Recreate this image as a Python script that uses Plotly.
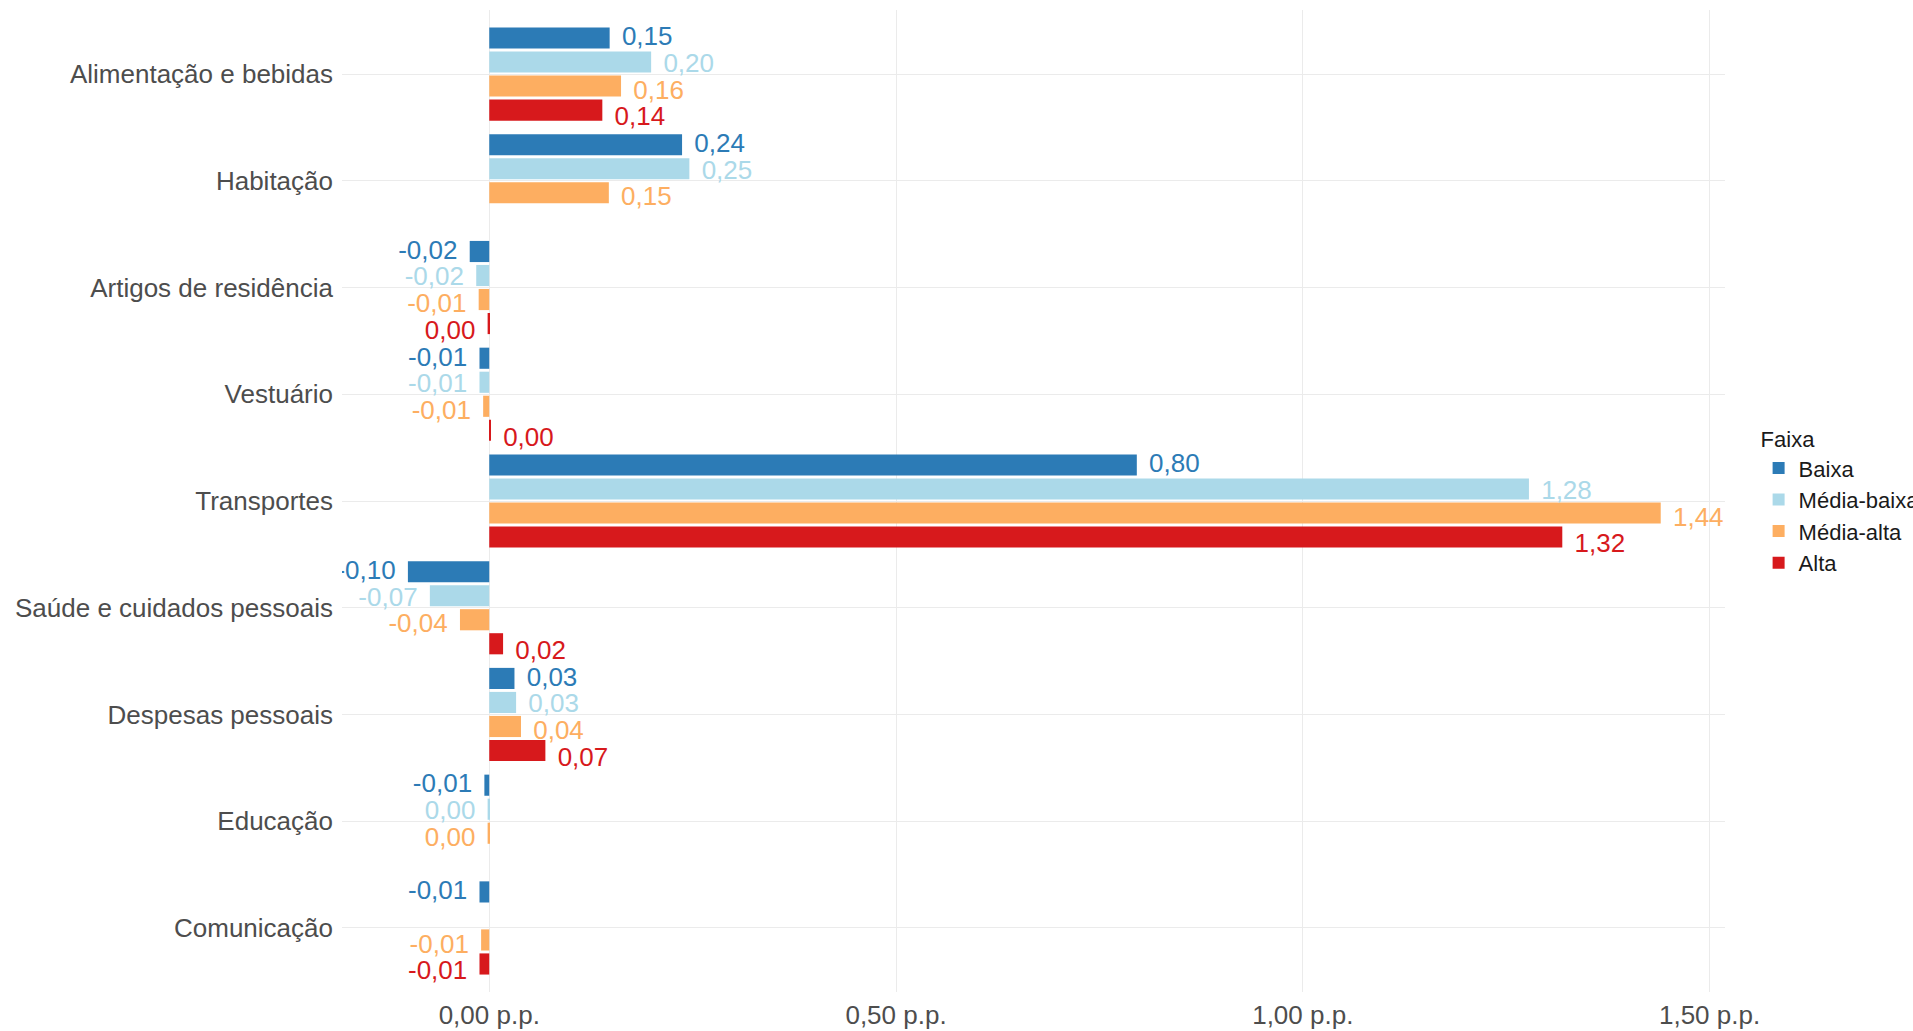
import plotly.graph_objects as go

categories = ["Alimentação e bebidas", "Habitação", "Artigos de residência", "Vestuário",
              "Transportes", "Saúde e cuidados pessoais", "Despesas pessoais", "Educação", "Comunicação"]
series_names = ["Baixa", "Média-baixa", "Média-alta", "Alta"]
baixa = [0.148, 0.237, -0.024, -0.012, 0.796, -0.100, 0.031, -0.006, -0.012]
media_baixa = [0.199, 0.246, -0.016, -0.012, 1.278, -0.073, 0.033, -0.002, None]
media_alta = [0.162, 0.147, -0.013, -0.0075, 1.440, -0.036, 0.039, -0.002, -0.010]
alta = [0.139, None, -0.002, 0.002, 1.319, 0.017, 0.069, None, -0.012]
colors = ["#2C7BB6", "#ABD9E9", "#FDAE61", "#D7191C"]
tick_vals = [0, 0.5, 1.0, 1.5]
tick_text = ["0,00 p.p.", "0,50 p.p.", "1,00 p.p.", "1,50 p.p."]

FONT = "Liberation Sans, Arial, sans-serif"
Y_RANGE = [8.6, -0.6]
LABEL_SHIFT = 0.045  # small downward nudge of value labels, in category units


def fmt(v):
    if v is None:
        return None
    s = f"{v:.2f}"
    if s == "-0.00":
        s = "0.00"
    return s.replace(".", ",")


def side(v):
    return "middle right" if (v is None or v >= 0) else "middle left"


fig = go.Figure()
all_series = [baixa, media_baixa, media_alta, alta]
for name, vals, col in zip(series_names, all_series, colors):
    fig.add_trace(go.Bar(
        y=categories, x=vals, name=name, orientation="h",
        marker=dict(color=col, line=dict(width=0)),
        hoverinfo="x+y+name",
    ))
for name, vals, col in zip(series_names, all_series, colors):
    fig.add_trace(go.Scatter(
        y=categories, x=vals, orientation="h", mode="markers+text", yaxis="y2",
        marker=dict(size=18, opacity=0, color=col),
        text=[fmt(v) for v in vals], textposition=[side(v) for v in vals],
        textfont=dict(color=col, size=26, family=FONT),
        cliponaxis=True, showlegend=False, hoverinfo="skip",
    ))

fig.update_layout(
    width=1913, height=1031,
    barmode="group", bargap=0.1, bargroupgap=0.12,
    scattermode="group", scattergap=0,
    plot_bgcolor="white", paper_bgcolor="white",
    margin=dict(l=342, r=188, t=10, b=39, autoexpand=False),
    font=dict(family=FONT, color="#4D4D4D"),
    xaxis=dict(range=[-0.181, 1.519], tickvals=tick_vals, ticktext=tick_text,
               showgrid=True, gridcolor="#EBEBEB", gridwidth=1.2, zeroline=False,
               showline=False, ticks="", tickfont=dict(size=26, color="#4D4D4D"),
               ticklabelstandoff=5),
    yaxis=dict(range=Y_RANGE, showgrid=True, gridcolor="#EBEBEB", gridwidth=1.2,
               zeroline=False, showline=False, ticks="",
               categoryorder="array", categoryarray=categories,
               tickfont=dict(size=26, color="#4D4D4D"), ticklabelstandoff=8),
    yaxis2=dict(range=[Y_RANGE[0] - LABEL_SHIFT, Y_RANGE[1] - LABEL_SHIFT],
                overlaying="y", visible=False, showgrid=False, zeroline=False,
                categoryorder="array", categoryarray=categories),
    legend=dict(title=dict(text="Faixa", font=dict(size=22, color="#1a1a1a")),
                font=dict(size=22, color="#1a1a1a"), x=1.0243, xanchor="left",
                y=0.584, yanchor="top", traceorder="normal", itemwidth=30,
                bgcolor="rgba(0,0,0,0)"),
    showlegend=True,
)

fig.write_html("out.html", config={"displayModeBar": False},
               post_script="document.body.style.margin='0';")
